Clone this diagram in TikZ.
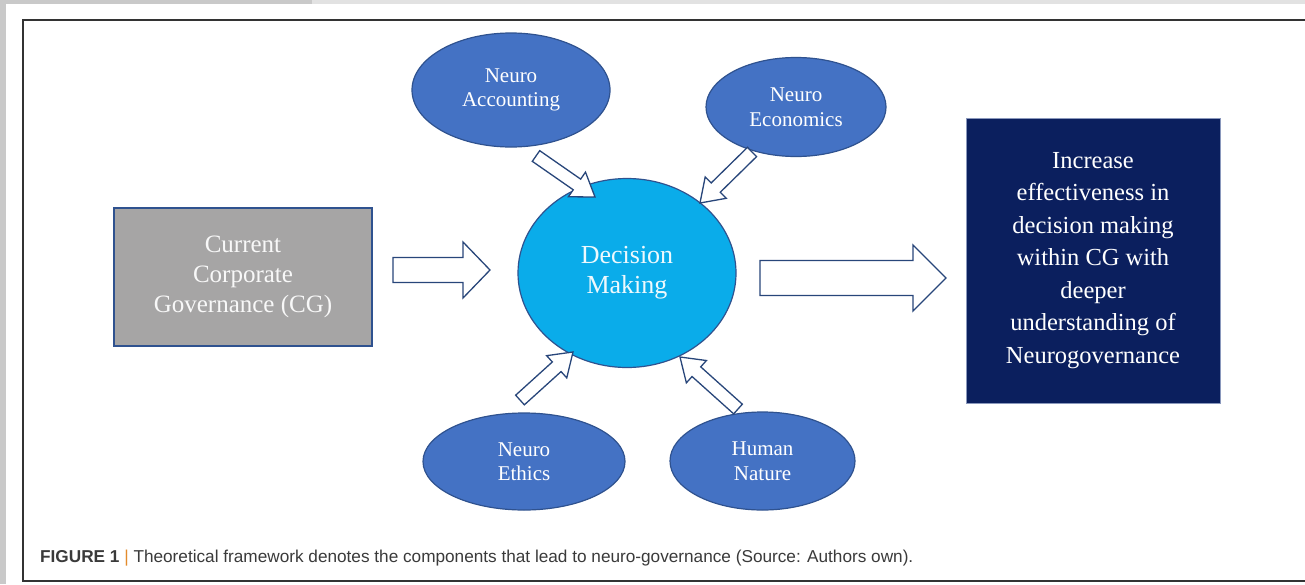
\documentclass[tikz,border=0pt]{standalone}
\usepackage{fontspec}
\setmainfont{Liberation Serif}
\newfontfamily\capfont{Liberation Sans}
\usetikzlibrary{shapes.geometric,calc}

\definecolor{pagegray}{HTML}{C9C9C9}
\definecolor{stripgray}{HTML}{E2E2E2}
\definecolor{edgeblue}{HTML}{2F528F}
\definecolor{neuroblue}{HTML}{4472C4}
\definecolor{dmblue}{HTML}{0AACEA}
\definecolor{cggray}{HTML}{A6A5A5}
\definecolor{navy}{HTML}{0B1F5E}
\definecolor{navyedge}{HTML}{8A98BC}
\definecolor{captext}{HTML}{3A3A3A}
\definecolor{capbar}{HTML}{E38B2C}

% hollow block arrow: from, to, shaft half width, head half width, head length
\newcommand{\fatarrow}[5]{%
  \draw[fatarr] ($(#1)!#3!90:(#2)$)
    -- ($(#2)!#5!(#1)!#3!-90:(#1)$)
    -- ($(#2)!#5!(#1)!#4!-90:(#1)$)
    -- (#2)
    -- ($(#2)!#5!(#1)!#4!90:(#1)$)
    -- ($(#2)!#5!(#1)!#3!90:(#1)$)
    -- ($(#1)!#3!-90:(#2)$) -- cycle;}

\begin{document}
\begin{tikzpicture}[x=1pt,y=-1pt,
  neuro/.style={ellipse, draw=edgeblue, line width=1.2pt, fill=neuroblue, inner sep=0pt,
    text=white, align=center, font=\fontsize{21}{24.5}\selectfont},
  dmcirc/.style={ellipse, draw=edgeblue, line width=1.2pt, fill=dmblue, inner sep=0pt,
    minimum width=218pt, minimum height=189pt, text=white!93!dmblue, align=center,
    font=\fontsize{26}{30}\selectfont},
  cgbox/.style={rectangle, draw=edgeblue, line width=1.5pt, fill=cggray, inner sep=0pt,
    minimum width=258pt, minimum height=138pt, text=white!92!cggray, align=center,
    font=\fontsize{25}{30}\selectfont},
  outbox/.style={rectangle, draw=navyedge, line width=1pt, fill=navy, inner sep=0pt,
    minimum width=254pt, minimum height=285pt, text=white, align=center,
    font=\fontsize{24.5}{32.5}\selectfont},
  fatarr/.style={draw=edgeblue!85!black, line width=1.3pt, fill=white, line join=miter},
  frame/.style={draw=black!80, line width=2pt}]
\useasboundingbox (0,0) rectangle (1305,584);
\fill[pagegray] (0,0) rectangle (1305,584);
\fill[stripgray] (312,0) rectangle (1305,4);
\fill[white] (6,4) rectangle (1305,584);
\draw[frame] (1310,19.5) -- (23,19.5) -- (23,580.5) -- (1310,580.5);

\node[cgbox] (cg) at (243,277) {Current\\Corporate\\Governance (CG)};
\node[dmcirc] (dm) at (627,273) {Decision\\Making};
\node[neuro, minimum width=198pt, minimum height=114pt] (acc) at (511,90) {Neuro\\Accounting};
\node[neuro, minimum width=180pt, minimum height=99pt] (eco) at (796,107) {Neuro\\Economics};
\node[neuro, minimum width=202pt, minimum height=97pt] (eth) at (524,461.5) {Neuro\\Ethics};
\node[neuro, minimum width=185pt, minimum height=98pt] (hum) at (762.5,461) {Human\\Nature};
\node[outbox] (out) at (1093,260.5) {Increase\\effectiveness in\\decision making\\within CG with\\deeper\\understanding of\\Neurogovernance};

\coordinate (cgT) at (393,270); \coordinate (cgH) at (490,270);
\coordinate (outT) at (760,278); \coordinate (outH) at (946,278);
\coordinate (accT) at (536,156); \coordinate (accH) at (595,197);
\coordinate (ecoT) at (752,152); \coordinate (ecoH) at (700,203);
\coordinate (ethT) at (520,400); \coordinate (ethH) at (573,352);
\coordinate (humT) at (738,409); \coordinate (humH) at (680,357);

\fatarrow{cgT}{cgH}{12.5pt}{28pt}{27pt}
\fatarrow{outT}{outH}{17.5pt}{33pt}{33pt}
\fatarrow{accT}{accH}{6.5pt}{15pt}{22pt}
\fatarrow{ecoT}{ecoH}{6.5pt}{15pt}{22pt}
\fatarrow{ethT}{ethH}{6.5pt}{15pt}{22pt}
\fatarrow{humT}{humH}{6.5pt}{15pt}{22pt}

\node[anchor=base west, inner sep=0pt, text=captext, font=\capfont\fontsize{17.2}{19}\selectfont] (cap) at (40,562)
  {\textbf{FIGURE 1} {\color{capbar}|} Theoretical framework denotes the components that lead to neuro-governance (Source: Authors own).};
\end{tikzpicture}
\end{document}
